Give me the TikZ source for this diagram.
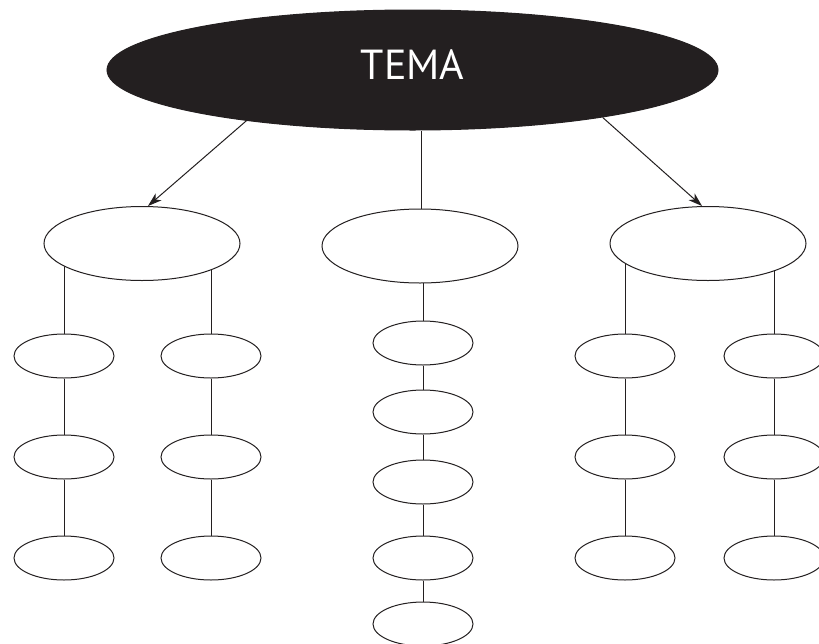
\documentclass[tikz,border=0pt]{standalone}
\usepackage{fontspec}
\newfontfamily\temafont{PT Sans}
\usetikzlibrary{shapes.geometric,arrows.meta,backgrounds}
\definecolor{ink}{HTML}{231F20}
\begin{document}
\begin{tikzpicture}[x=1pt,y=-1pt,
  line width=1pt, draw=ink,
  topbox/.style={ellipse, fill=ink, draw=ink, minimum width=611pt, minimum height=120pt, inner sep=0pt,
     text=white, font=\temafont\fontsize{42}{50}\selectfont, text depth=11pt},
  midbox/.style={ellipse, draw=ink, fill=white, minimum width=196pt, minimum height=74pt, inner sep=0pt},
  smallbox/.style={ellipse, draw=ink, fill=white, minimum width=100pt, minimum height=44pt, inner sep=0pt},
  link/.style={draw=ink, line width=1pt},
  arr/.style={link, -{Stealth[length=14pt,width=9pt,inset=4pt]}}
]
\clip (0,0) rectangle (819,643);

\node[topbox] (top) at (412.5,70) {TEMA};

\node[midbox] (L) at (142,243.5) {};
\node[midbox] (M) at (420,246) {};
\node[midbox] (R) at (708,243.5) {};

% left columns
\node[smallbox] (a1) at (64,356) {};
\node[smallbox] (a2) at (64,457) {};
\node[smallbox] (a3) at (64,558) {};
\node[smallbox] (b1) at (211,356) {};
\node[smallbox] (b2) at (211,457) {};
\node[smallbox] (b3) at (211,558) {};
% middle column
\node[smallbox] (c1) at (423,343) {};
\node[smallbox] (c2) at (423,412) {};
\node[smallbox] (c3) at (423,482) {};
\node[smallbox] (c4) at (423,558) {};
\node[smallbox] (c5) at (423,624) {};
% right columns
\node[smallbox] (d1) at (625,356) {};
\node[smallbox] (d2) at (625,457) {};
\node[smallbox] (d3) at (625,558) {};
\node[smallbox] (e1) at (774,356) {};
\node[smallbox] (e2) at (774,457) {};
\node[smallbox] (e3) at (774,558) {};

\begin{scope}[on background layer]
  \fill[white] (0,0) rectangle (819,643);
  \draw[link] (a1.north) -- (a1.north |- L.center);
  \draw[link] (b1.north) -- (b1.north |- L.center);
  \draw[link] (c1.north) -- (c1.north |- M.center);
  \draw[link] (d1.north) -- (d1.north |- R.center);
  \draw[link] (e1.north) -- (e1.north |- R.center);
  \draw[link] (a1) -- (a2) -- (a3);
  \draw[link] (b1) -- (b2) -- (b3);
  \draw[link] (c1) -- (c2) -- (c3) -- (c4) -- (c5);
  \draw[link] (d1) -- (d2) -- (d3);
  \draw[link] (e1) -- (e2) -- (e3);
\end{scope}

\draw[arr] (top.197) -- (L.81);
\draw[arr] (top.346) -- (R.99);
\draw[link] (M.87) -- (M.87 |- top.south);
\end{tikzpicture}
\end{document}
